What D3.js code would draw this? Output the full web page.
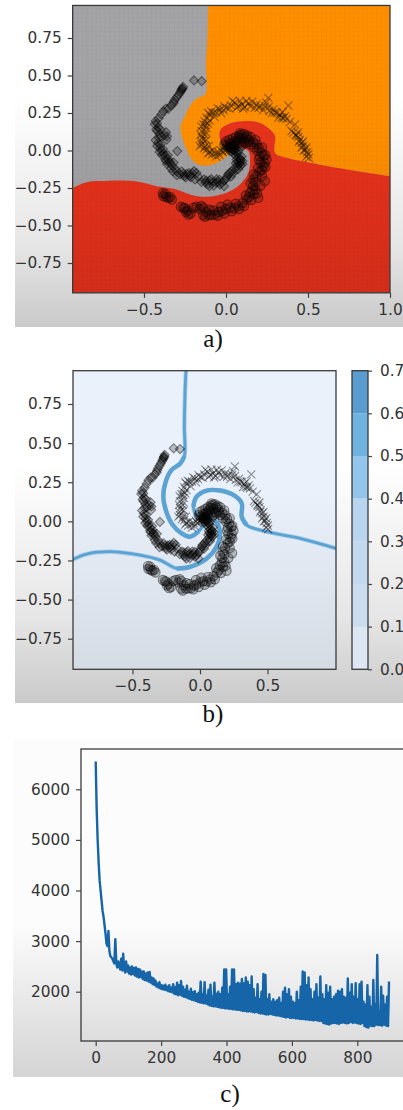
<!DOCTYPE html>
<html>
<head>
<meta charset="utf-8">
<title>Spiral classifier</title>
<style>
body { margin: 0; background: #fff; }
svg { display: block; }
.tick text, .cb text { font: 15.3px "DejaVu Sans", sans-serif; fill: #333; }
.tick line { stroke: #444; stroke-width: 1.2px; }
.cap { font: 25px "Liberation Serif", serif; fill: #111; text-anchor: middle; }
.frame { fill: none; stroke: #3a3a3a; stroke-width: 1.3px; }
</style>
<script src="https://cdn.jsdelivr.net/npm/d3@7"></script>
</head>
<body>
<svg width="403" height="1110"></svg>
<script>
// scatter arms (same points in a and b)
var diamonds = [[-0.148,0.462],[-0.195,0.467],[-0.262,0.425],[-0.268,0.41],[-0.274,0.396],[-0.29,0.37],[-0.311,0.34],[-0.318,0.325],[-0.321,0.313],[-0.352,0.278],[-0.382,0.262],[-0.429,0.196],[-0.42,0.18],[-0.413,0.151],[-0.419,0.129],[-0.405,0.11],[-0.366,0.122],[-0.36,0.095],[-0.362,0.073],[-0.429,0.069],[-0.415,0.05],[-0.402,0.018],[-0.392,-0.004],[-0.297,-0.004],[-0.38,-0.02],[-0.372,-0.038],[-0.352,-0.056],[-0.365,-0.07],[-0.341,-0.082],[-0.33,-0.1],[-0.325,-0.138],[-0.3,-0.14],[-0.28,-0.16],[-0.254,-0.171],[-0.24,-0.155],[-0.22,-0.167],[-0.205,-0.15],[-0.195,-0.138],[-0.189,-0.193],[-0.17,-0.175],[-0.134,-0.193],[-0.125,-0.215],[-0.102,-0.238],[-0.1,-0.2],[-0.08,-0.21],[-0.057,-0.193],[-0.05,-0.21],[-0.037,-0.227],[-0.012,-0.238],[0.0,-0.19],[0.014,-0.16],[0.03,-0.175],[0.035,-0.138],[0.05,-0.12],[0.069,-0.104],[0.081,-0.082],[0.06,-0.085],[0.065,-0.06],[0.08,-0.05],[0.06,-0.035],[0.045,-0.02],[0.05,0.0],[0.024,0.018],[0.035,0.01],
[-0.265,0.415],[-0.27,0.405],[-0.28,0.385],[-0.3,0.355],[-0.335,0.3],[-0.365,0.28],[-0.395,0.24],[-0.41,0.215],[-0.435,0.175],[-0.425,0.14],[-0.4,0.14],[-0.375,0.1],[-0.395,0.09],[-0.41,0.085],[-0.42,0.03],[-0.4,0.04],[-0.385,0.01],[-0.405,-0.01],[-0.39,-0.03],[-0.355,-0.03],[-0.37,-0.06],[-0.345,-0.075],[-0.36,-0.09],[-0.32,-0.08],[-0.335,-0.12],[-0.31,-0.12],[-0.3,-0.165],[-0.27,-0.14],[-0.26,-0.155],[-0.245,-0.18],[-0.225,-0.15],[-0.215,-0.18],[-0.18,-0.15],[-0.15,-0.21],[-0.12,-0.2],[-0.11,-0.225],[-0.09,-0.19],[-0.075,-0.235],[-0.06,-0.215],[-0.04,-0.195],[-0.025,-0.215],[-0.01,-0.2],[0.005,-0.175],[0.02,-0.15],[0.04,-0.155],[0.06,-0.13],[0.075,-0.125],[0.09,-0.1],[0.1,-0.07],[0.085,-0.065],[0.095,-0.04],[0.07,-0.02],[0.075,-0.005],[0.055,0.015],[0.04,0.03],[0.06,-0.01],[0.085,-0.085],[0.1,-0.09],[0.09,-0.06],[0.07,-0.075]];
var crosses = [[0.502,-0.027],[0.495,-0.01],[0.482,0.007],[0.47,0.03],[0.461,0.051],[0.45,0.07],[0.441,0.091],[0.425,0.105],[0.411,0.118],[0.421,0.173],[0.38,0.3],[0.258,0.351],[0.36,0.229],[0.35,0.215],[0.329,0.24],[0.31,0.25],[0.289,0.273],[0.265,0.265],[0.238,0.296],[0.245,0.32],[0.21,0.3],[0.187,0.307],[0.16,0.325],[0.136,0.313],[0.115,0.29],[0.096,0.307],[0.075,0.295],[0.055,0.318],[0.03,0.3],[0.004,0.284],[-0.015,0.27],[-0.037,0.273],[-0.06,0.255],[-0.077,0.251],[-0.1,0.24],[-0.118,0.218],[-0.1,0.2],[-0.13,0.195],[-0.138,0.173],[-0.12,0.15],[-0.148,0.129],[-0.13,0.105],[-0.138,0.073],[-0.15,0.06],[-0.148,0.04],[-0.125,0.03],[-0.118,0.007],[-0.1,-0.01],[-0.087,-0.027],[-0.065,-0.02],[-0.047,-0.011],[-0.03,0.0],[-0.006,0.018],[0.01,0.015],[0.035,0.007],[0.02,0.03],[0.045,0.02],
[0.49,-0.04],[0.505,-0.05],[0.475,0.0],[0.49,0.02],[0.46,0.02],[0.47,0.06],[0.445,0.06],[0.43,0.1],[0.44,0.12],[0.4,0.13],[0.39,0.19],[0.37,0.21],[0.34,0.22],[0.345,0.255],[0.32,0.22],[0.3,0.255],[0.28,0.25],[0.26,0.29],[0.225,0.27],[0.2,0.285],[0.175,0.285],[0.15,0.295],[0.125,0.33],[0.105,0.28],[0.085,0.33],[0.065,0.285],[0.04,0.33],[0.02,0.28],[-0.01,0.295],[-0.03,0.25],[-0.05,0.28],[-0.07,0.225],[-0.09,0.26],[-0.11,0.25],[-0.125,0.17],[-0.11,0.18],[-0.15,0.16],[-0.155,0.105],[-0.125,0.125],[-0.145,0.085],[-0.12,0.07],[-0.16,0.03],[-0.135,0.015],[-0.105,0.03],[-0.11,-0.02],[-0.08,0.0],[-0.06,-0.04],[-0.04,-0.03],[-0.02,-0.01],[0,0.0],[0.015,0.0],[0.03,0.03],[-0.01,0.03],[0.05,0.035]];
var circles = [[-0.382,-0.304],[-0.365,-0.31],[-0.352,-0.316],[-0.33,-0.327],[-0.26,-0.382],[-0.245,-0.41],[-0.229,-0.427],[-0.199,-0.382],[-0.16,-0.39],[-0.138,-0.382],[-0.128,-0.442],[-0.105,-0.43],[-0.09,-0.43],[-0.067,-0.427],[-0.045,-0.41],[-0.026,-0.404],[0.0,-0.39],[0.024,-0.382],[0.05,-0.385],[0.075,-0.371],[0.1,-0.35],[0.126,-0.327],[0.14,-0.31],[0.146,-0.282],[0.17,-0.29],[0.197,-0.316],[0.18,-0.26],[0.165,-0.235],[0.167,-0.193],[0.185,-0.17],[0.238,-0.204],[0.22,-0.17],[0.205,-0.14],[0.228,-0.104],[0.235,-0.08],[0.248,-0.06],[0.23,-0.035],[0.217,-0.016],[0.2,0.015],[0.187,0.04],[0.165,0.055],[0.136,0.073],[0.12,0.09],[0.096,0.107],[0.08,0.085],[0.07,0.07],[0.055,0.062],[0.04,0.05],[0.025,0.045],[0.004,0.029],[0.03,0.02],[0.05,0.03],[0.08,0.05],[0.11,0.06],
[-0.37,-0.29],[-0.385,-0.285],[-0.34,-0.31],[-0.275,-0.375],[-0.25,-0.385],[-0.235,-0.4],[-0.215,-0.42],[-0.18,-0.375],[-0.15,-0.37],[-0.12,-0.41],[-0.14,-0.43],[-0.1,-0.395],[-0.075,-0.4],[-0.05,-0.435],[-0.03,-0.375],[-0.01,-0.42],[0.01,-0.36],[0.035,-0.405],[0.06,-0.355],[0.08,-0.39],[0.11,-0.37],[0.12,-0.3],[0.155,-0.33],[0.16,-0.265],[0.19,-0.285],[0.15,-0.22],[0.18,-0.21],[0.21,-0.235],[0.17,-0.16],[0.195,-0.115],[0.22,-0.13],[0.24,-0.11],[0.21,-0.08],[0.24,-0.03],[0.205,-0.04],[0.22,0.02],[0.19,0.0],[0.18,0.07],[0.15,0.04],[0.15,0.09],[0.13,0.1],[0.11,0.11],[0.085,0.115],[0.1,0.08],[0.08,0.1],[0.06,0.09],[0.04,0.08],[0.02,0.07],[0.0,0.06],[-0.01,0.04],[0.02,0.02],[0.06,0.05],[0.09,0.03],[0.1,0.04],[0.12,0.05],[0.14,0.06],[0.17,0.02],[0.2,-0.06],[0.03,0.0],[0.05,0.01]];

// decision regions of panel a: curved edge, then the frame corners that close it
var orangeEdge = [[-0.108,0.967],[-0.112,0.784],[-0.122,0.562],[-0.118,0.429],[-0.128,0.373],[-0.179,0.347],[-0.22,0.296],[-0.25,0.229],[-0.276,0.167],[-0.27,0.096],[-0.24,0.007],[-0.209,-0.06],[-0.159,-0.098],[-0.098,-0.098],[-0.037,-0.071],[0.004,-0.038],[0.045,0.007],[-0.016,0.029],[-0.037,0.073],[-0.033,0.14],[0.024,0.18],[0.126,0.196],[0.207,0.184],[0.268,0.14],[0.299,0.096],[0.299,-0.016],[0.37,-0.049],[0.512,-0.082],[0.654,-0.111],[1.0,-0.171]];
var orangeCorners = [[1.0,0.967]];
var redEdge = [[-0.935,-0.249],[-0.85,-0.211],[-0.768,-0.204],[-0.565,-0.204],[-0.423,-0.238],[-0.301,-0.26],[-0.22,-0.293],[-0.118,-0.309],[0.004,-0.282],[0.085,-0.227],[0.136,-0.149],[0.146,-0.06],[0.136,-0.004],[0.085,0.018],[0.045,0.007],[-0.016,0.029],[-0.037,0.073],[-0.033,0.14],[0.024,0.18],[0.126,0.196],[0.207,0.184],[0.268,0.14],[0.299,0.096],[0.299,-0.016],[0.37,-0.049],[0.512,-0.082],[0.654,-0.111],[1.0,-0.171]];
var redCorners = [[1.0,-0.949],[-0.935,-0.949]];

// contour ridges of panel b
var ridgeTop = [[-0.104,0.966],[-0.111,0.821],[-0.116,0.607],[-0.116,0.415],[-0.148,0.368],[-0.21,0.329],[-0.254,0.254],[-0.272,0.158],[-0.254,0.073],[-0.21,-0.013],[-0.136,-0.077],[-0.074,-0.098],[-0.012,-0.066],[0.025,-0.024]];
var ridgeRight = [[1.007,-0.173],[0.741,-0.109],[0.494,-0.066],[0.346,-0.024],[0.309,0.03],[0.309,0.115],[0.247,0.169],[0.148,0.197],[0.049,0.197],[-0.025,0.158],[-0.049,0.094],[-0.025,0.03]];
var ridgeLeft = [[-0.943,-0.244],[-0.84,-0.209],[-0.667,-0.194],[-0.444,-0.216],[-0.296,-0.248],[-0.173,-0.301],[-0.074,-0.291],[0.049,-0.237],[0.123,-0.162],[0.148,-0.077],[0.123,-0.002],[0.074,0.009]];

var barLevels = [0, 0.1, 0.2, 0.3, 0.4, 0.5, 0.6, 0.7];
var barColors = ["#dde7f3", "#cbdcee", "#c4d9ee", "#b8d4ee", "#93c6ea", "#6fb2e0", "#5a9bd0"];

var tickA = [-0.75, -0.5, -0.25, 0, 0.25, 0.5, 0.75];
var tickXA = [-0.5, 0, 0.5, 1];
var tickXB = [-0.5, 0, 0.5];

// loss curve, one value per 3 iterations
var lossStep = 3;
var loss = [6550,5600,5000,4550,4200,4000,3800,3600,3480,3320,
3150,2950,2900,3200,2800,2700,2680,2650,2600,2560,
3040,2560,2480,2600,2500,2440,2650,2420,2750,2450,
2380,2600,2400,2520,2360,2480,2340,2500,2350,2470,
2320,2480,2300,2450,2280,2440,2290,2400,2250,2400,
2230,2360,2220,2380,2200,2390,2180,2280,2150,2260,
2130,2220,2100,2160,2080,2190,2060,2130,2050,2120,
2040,2140,2030,2100,2010,2130,2000,2080,1990,2150,
1960,2090,1950,2180,1930,2130,1940,2210,1920,2100,
1900,2040,1890,2120,1870,2000,1860,2060,1840,1990,
1830,2010,1820,1950,1800,1980,1790,2200,1780,1950,
1770,2190,1770,1920,1750,2040,1730,2140,1720,1900,
1710,2180,1710,1960,1700,2000,1690,1950,1680,2080,
1680,2440,1670,2440,1670,1950,1660,2100,1660,2440,
1650,2440,1650,2150,1640,2180,1640,2160,1630,2250,
1620,2170,1620,2280,1610,2200,1610,2130,1610,2300,
1600,2050,1590,1880,1600,2150,1580,1850,1570,2000,
1570,2350,1560,2330,1550,1850,1550,1950,1560,1800,
1550,1850,1540,1800,1530,1830,1530,1880,1520,1780,
1510,2000,1500,2080,1490,1950,1500,2050,1480,1900,
1480,1800,1480,1780,1470,2000,1470,1830,1460,2100,
1460,2400,1460,2380,1450,2130,1450,2280,1440,2050,
1440,1850,1430,2000,1440,2150,1430,1880,1420,2300,
1420,1950,1380,1850,1370,2130,1360,1980,1350,2100,
1370,1850,1380,1900,1380,1950,1370,2020,1360,2000,
1380,2050,1390,1900,1380,1880,1370,2260,1380,1980,
1400,2150,1380,1900,1390,2170,1380,1850,1370,2150,
1360,2200,1380,1800,1320,1750,1300,2130,1290,1900,
1330,1700,1320,2230,1320,1750,1350,2725,1340,1600,
1340,2100,1330,1920,1350,1750,1330,1900,1320,2200];
var tickLossX = [0, 200, 400, 600, 800];
var tickLossY = [2000, 3000, 4000, 5000, 6000];

var svg = d3.select("svg");
var defs = svg.append("defs");

defs.append("filter").attr("id", "soft").append("feGaussianBlur").attr("stdDeviation", 0.7);
defs.append("filter").attr("id", "soft2").append("feGaussianBlur").attr("stdDeviation", 0.35);

function shade(id, stops) {
  var g = defs.append("linearGradient").attr("id", id).attr("x1", 0).attr("x2", 0).attr("y1", 0).attr("y2", 1);
  stops.forEach(function(s) {
    g.append("stop").attr("offset", s[0]).attr("stop-color", "#000").attr("stop-opacity", s[1]);
  });
}
shade("shadeBack", [[0.3, 0], [0.75, 0.1], [1, 0.21]]);
shade("shadeTop", [[0.4, 0], [1, 0.09]]);
shade("shadeC", [[0.55, 0], [1, 0.16]]);

var mesh = defs.append("pattern").attr("id", "mesh").attr("width", 4.6).attr("height", 4.6)
    .attr("patternUnits", "userSpaceOnUse");
mesh.append("path").attr("d", "M4.6 0V4.6H0").attr("fill", "none").attr("stroke", "#000").attr("stroke-opacity", 0.05);

function clip(id, x0, y0, x1, y1) {
  defs.append("clipPath").attr("id", id).append("rect")
      .attr("x", x0).attr("y", y0).attr("width", x1 - x0).attr("height", y1 - y0);
}

function axes(g, x, y, xt, yt, xf, yf, bottom, left) {
  g.append("g").attr("transform", "translate(0," + bottom + ")")
    .call(d3.axisBottom(x).tickValues(xt).tickSize(5).tickPadding(6).tickFormat(xf))
    .call(function(a) { a.select(".domain").remove(); });
  g.append("g").attr("transform", "translate(" + left + ",0)")
    .call(d3.axisLeft(y).tickValues(yt).tickSize(5).tickPadding(6).tickFormat(yf))
    .call(function(a) { a.select(".domain").remove(); });
}

function scatter(g, x, y) {
  var m = g.append("g").attr("filter", "url(#soft)");
  function put(pts, type, size, rot) {
    m.selectAll(null).data(pts).enter().append("path")
      .attr("d", d3.symbol().type(type).size(size))
      .attr("transform", function(d) { return "translate(" + x(d[0]) + "," + y(d[1]) + ") rotate(" + rot + ")"; })
      .attr("fill", type === d3.symbolTimes ? "none" : "#000")
      .attr("fill-opacity", 0.22)
      .attr("stroke", "#000")
      .attr("stroke-opacity", 0.42)
      .attr("stroke-width", 1.1);
  }
  put(diamonds, d3.symbolSquare, 42, 45);
  put(crosses, d3.symbolTimes, 45, 0);
  put(circles, d3.symbolCircle, 68, 0);
}

var fmt2 = d3.format(".2f"), fmt1 = d3.format(".1f");

// ---- panel a ----
var a = svg.append("g");
var xa = d3.scaleLinear().domain([-0.5, 1]).range([144, 390]);
var ya = d3.scaleLinear().domain([-0.75, 0.75]).range([263, 38]);
var aL = xa(-0.935), aR = xa(1), aT = ya(0.967), aB = ya(-0.949);
clip("clipA", aL, aT, aR, aB);
var polyA = d3.line().curve(d3.curveCatmullRom).x(function(d) { return xa(d[0]); }).y(function(d) { return ya(d[1]); });
function region(edge, corners) {
  return polyA(edge) + corners.map(function(d) { return "L" + xa(d[0]) + "," + ya(d[1]); }).join("") + "Z";
}

a.append("rect").attr("x", 15).attr("y", 0).attr("width", 388).attr("height", 327).attr("fill", "url(#shadeBack)");
a.append("rect").attr("x", aL).attr("y", aT).attr("width", aR - aL).attr("height", aB - aT).attr("fill", "#a4a4a6");
var regions = a.append("g").attr("clip-path", "url(#clipA)");
regions.append("path").attr("d", region(orangeEdge, orangeCorners)).attr("fill", "#ff8f05").attr("filter", "url(#soft2)");
regions.append("path").attr("d", region(redEdge, redCorners)).attr("fill", "#e8301a").attr("filter", "url(#soft2)");
a.append("rect").attr("x", aL).attr("y", aT).attr("width", aR - aL).attr("height", aB - aT).attr("fill", "url(#mesh)");
a.append("rect").attr("x", aL).attr("y", aT).attr("width", aR - aL).attr("height", aB - aT).attr("fill", "url(#shadeTop)");
scatter(a.append("g").attr("clip-path", "url(#clipA)"), xa, ya);
a.append("rect").attr("class", "frame").attr("x", aL).attr("y", aT).attr("width", aR - aL).attr("height", aB - aT);
axes(a, xa, ya, tickXA, tickA, fmt1, fmt2, aB, aL);

// ---- panel b ----
var b = svg.append("g");
var xb = d3.scaleLinear().domain([-0.5, 0.5]).range([132.5, 267.5]);
var yb = d3.scaleLinear().domain([-0.75, 0.75]).range([638.7, 404]);
var bL = 73, bR = 336, bT = 370.7, bB = 669.3;
clip("clipB", bL, bT, bR, bB);
var ridge = d3.line().curve(d3.curveCatmullRom)
    .x(function(d) { return xb(d[0]); }).y(function(d) { return yb(d[1]); });

b.append("rect").attr("x", 15).attr("y", 362).attr("width", 388).attr("height", 341).attr("fill", "url(#shadeBack)");
b.append("rect").attr("x", bL).attr("y", bT).attr("width", bR - bL).attr("height", bB - bT).attr("fill", "#eaf1fa");
b.append("rect").attr("x", bL).attr("y", bT).attr("width", bR - bL).attr("height", bB - bT).attr("fill", "url(#shadeTop)");
var ridges = b.append("g").attr("clip-path", "url(#clipB)").append("g").attr("filter", "url(#soft2)");
[ridgeTop, ridgeRight, ridgeLeft].forEach(function(r) {
  ridges.append("path").attr("d", ridge(r)).attr("fill", "none").attr("stroke", "#a8cfeb").attr("stroke-width", 4.4);
  ridges.append("path").attr("d", ridge(r)).attr("fill", "none").attr("stroke", "#5ba3d3").attr("stroke-width", 2.8);
});
// the ridges swell along the inner turns
[ridgeTop.slice(3, 13), ridgeRight.slice(3, 11), ridgeLeft.slice(5, 11)].forEach(function(r) {
  ridges.append("path").attr("d", ridge(r)).attr("fill", "none").attr("stroke", "#5ba3d3").attr("stroke-width", 4.4);
});
scatter(b, xb, yb);
b.append("rect").attr("class", "frame").attr("x", bL).attr("y", bT).attr("width", bR - bL).attr("height", bB - bT);
axes(b, xb, yb, tickXB, tickA, fmt1, fmt2, bB, bL);

// colorbar
var cb = d3.scaleLinear().domain([0, 0.7]).range([669.3, 370.7]);
b.selectAll(null).data(barColors).enter().append("rect")
  .attr("x", 352).attr("width", 16)
  .attr("y", function(d, i) { return cb(barLevels[i + 1]); })
  .attr("height", function(d, i) { return cb(barLevels[i]) - cb(barLevels[i + 1]); })
  .attr("fill", function(d) { return d; });
b.append("rect").attr("class", "frame").attr("x", 352).attr("y", cb(0.7)).attr("width", 16).attr("height", cb(0) - cb(0.7));
b.append("g").attr("transform", "translate(368,0)")
  .call(d3.axisRight(cb).tickValues(barLevels).tickSize(4).tickPadding(8).tickFormat(fmt1))
  .call(function(g) { g.select(".domain").remove(); });

// ---- panel c ----
var c = svg.append("g");
var xc = d3.scaleLinear().domain([0, 800]).range([95.7, 357.3]);
var yc = d3.scaleLinear().domain([2000, 6000]).range([991.7, 789.3]);
var cL = 81, cT = 749, cB = 1041;
var lossLine = d3.line()
    .x(function(d, i) { return xc(i * lossStep); })
    .y(function(d) { return yc(d); });

c.append("rect").attr("x", 13).attr("y", 739).attr("width", 390).attr("height", 338).attr("fill", "#fcfcfc");
c.append("rect").attr("x", 13).attr("y", 739).attr("width", 390).attr("height", 338).attr("fill", "url(#shadeC)");
c.append("path").datum(loss).attr("d", lossLine).attr("fill", "none")
  .attr("stroke", "#1565a8").attr("stroke-width", 2.4).attr("stroke-linejoin", "round").attr("filter", "url(#soft2)");
c.append("rect").attr("class", "frame").attr("x", cL).attr("y", cT).attr("width", 340).attr("height", cB - cT);
axes(c, xc, yc, tickLossX, tickLossY, d3.format("d"), d3.format("d"), cB, cL);

// captions
[["a)", 213, 347], ["b)", 213, 722], ["c)", 230, 1102]].forEach(function(t) {
  svg.append("text").attr("class", "cap").attr("x", t[1]).attr("y", t[2]).text(t[0]);
});
</script>
</body>
</html>
